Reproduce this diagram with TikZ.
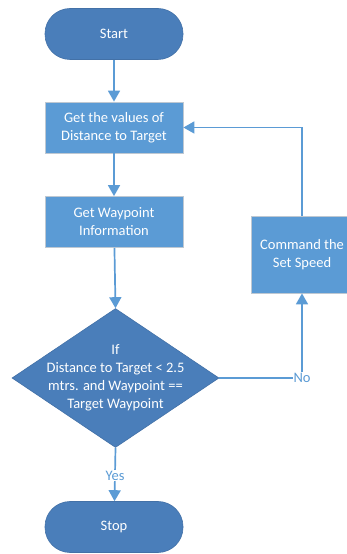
\documentclass[tikz,border=0pt]{standalone}
\usepackage{fontspec}
\setmainfont{Carlito}
\usetikzlibrary{shapes.geometric,arrows.meta}
\definecolor{termblue}{RGB}{74,126,186}
\definecolor{boxblue}{RGB}{91,155,213}
\definecolor{lineblue}{RGB}{91,155,213}
\definecolor{boxedge}{RGB}{190,200,210}
\tikzset{
  txt/.style={font=\fontsize{14.5}{18}\selectfont, text=white, align=center},
  terminal/.style={txt, draw=termblue!90!black, line width=0.6pt, fill=termblue,
    rectangle, rounded corners=25pt, minimum width=138pt, minimum height=51pt},
  procbox/.style={txt, draw=boxedge, line width=0.8pt, fill=boxblue,
    rectangle, minimum width=138pt, minimum height=51pt},
  decision/.style={draw=termblue!90!black, line width=0.6pt, fill=termblue,
    diamond, inner sep=0pt, minimum width=207pt, minimum height=139pt},
  flow/.style={draw=lineblue, line width=1.7pt,
    -{Triangle[width=12pt,length=11pt]}},
  edgelabel/.style={font=\fontsize{14.5}{16}\selectfont, text=lineblue,
    fill=white, inner sep=1pt}
}
\begin{document}
\begin{tikzpicture}[x=1pt,y=1pt]
  \useasboundingbox (0,0) rectangle (346,554);

  % main column
  \node[terminal] (start) at (114,520) {Start};
  \node[procbox] (getdist) at (114,426.5) {Get the values of\\Distance to Target};
  \node[procbox] (getwp) at (114,332) {Get Waypoint\\Information};
  \node[decision] (check) at (115.5,176) {};
  \node[txt] (checktext) at (check.center)
    {If\\Distance to Target < 2.5\\mtrs. and Waypoint ==\\Target Waypoint};
  \node[terminal] (stop) at (114,27) {Stop};

  % loop-back branch
  \node[procbox, minimum width=102pt, minimum height=77pt] (speed) at (302,299.5)
    {Command the\\Set Speed};

  % connectors
  \draw[flow] (start) -- (getdist);
  \draw[flow] (getdist) -- (getwp);
  \draw[flow] (getwp) -- (check.north);
  \draw[flow] (check.south) -- node[edgelabel, pos=0.52] (yes) {Yes} (stop);
  \draw[flow] (check.east) -| node[edgelabel, pos=0.5] (no) {No} (speed.south);
  \draw[flow] (speed.north) |- (getdist.east);
\end{tikzpicture}
\end{document}
